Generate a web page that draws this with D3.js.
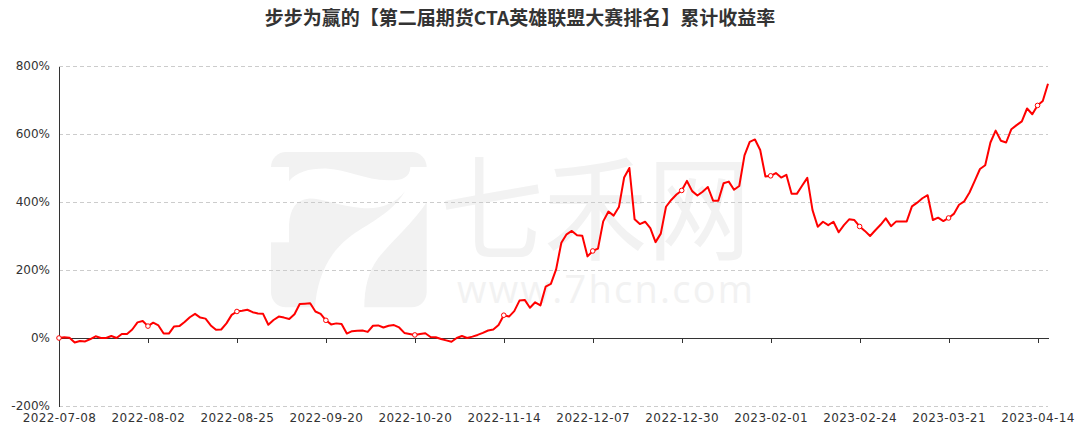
<!DOCTYPE html>
<html>
<head>
<meta charset="utf-8">
<script src="https://cdn.jsdelivr.net/npm/d3@7/dist/d3.min.js"></script>
<style>
html,body{margin:0;padding:0;background:#fff;}
svg{display:block;}
text{font-family:"DejaVu Sans",sans-serif;}
</style>
</head>
<body>
<svg id="chart" width="1079" height="435"></svg>
<script>
const titleText = "步步为赢的【第二届期货CTA英雄联盟大赛排名】累计收益率";

const dates = [
"2022-07-08","2022-07-11","2022-07-12","2022-07-13","2022-07-14","2022-07-15",
"2022-07-18","2022-07-19","2022-07-20","2022-07-21","2022-07-22",
"2022-07-25","2022-07-26","2022-07-27","2022-07-28","2022-07-29",
"2022-08-01","2022-08-02","2022-08-03","2022-08-04","2022-08-05",
"2022-08-08","2022-08-09","2022-08-10","2022-08-11","2022-08-12",
"2022-08-15","2022-08-16","2022-08-17","2022-08-18","2022-08-19",
"2022-08-22","2022-08-23","2022-08-24","2022-08-25","2022-08-26",
"2022-08-29","2022-08-30","2022-08-31","2022-09-01","2022-09-02",
"2022-09-05","2022-09-06","2022-09-07","2022-09-08","2022-09-09",
"2022-09-13","2022-09-14","2022-09-15","2022-09-16",
"2022-09-19","2022-09-20","2022-09-21","2022-09-22","2022-09-23",
"2022-09-26","2022-09-27","2022-09-28","2022-09-29","2022-09-30",
"2022-10-10","2022-10-11","2022-10-12","2022-10-13","2022-10-14",
"2022-10-17","2022-10-18","2022-10-19","2022-10-20","2022-10-21",
"2022-10-24","2022-10-25","2022-10-26","2022-10-27","2022-10-28",
"2022-10-31","2022-11-01","2022-11-02","2022-11-03","2022-11-04",
"2022-11-07","2022-11-08","2022-11-09","2022-11-10","2022-11-11",
"2022-11-14","2022-11-15","2022-11-16","2022-11-17","2022-11-18",
"2022-11-21","2022-11-22","2022-11-23","2022-11-24","2022-11-25",
"2022-11-28","2022-11-29","2022-11-30","2022-12-01","2022-12-02",
"2022-12-05","2022-12-06","2022-12-07","2022-12-08","2022-12-09",
"2022-12-12","2022-12-13","2022-12-14","2022-12-15","2022-12-16",
"2022-12-19","2022-12-20","2022-12-21","2022-12-22","2022-12-23",
"2022-12-26","2022-12-27","2022-12-28","2022-12-29","2022-12-30",
"2023-01-03","2023-01-04","2023-01-05","2023-01-06",
"2023-01-09","2023-01-10","2023-01-11","2023-01-12","2023-01-13",
"2023-01-16","2023-01-17","2023-01-18","2023-01-19","2023-01-20",
"2023-01-30","2023-01-31","2023-02-01","2023-02-02","2023-02-03",
"2023-02-06","2023-02-07","2023-02-08","2023-02-09","2023-02-10",
"2023-02-13","2023-02-14","2023-02-15","2023-02-16","2023-02-17",
"2023-02-20","2023-02-21","2023-02-22","2023-02-23","2023-02-24",
"2023-02-27","2023-02-28","2023-03-01","2023-03-02","2023-03-03",
"2023-03-06","2023-03-07","2023-03-08","2023-03-09","2023-03-10",
"2023-03-13","2023-03-14","2023-03-15","2023-03-16","2023-03-17",
"2023-03-20","2023-03-21","2023-03-22","2023-03-23","2023-03-24",
"2023-03-27","2023-03-28","2023-03-29","2023-03-30","2023-03-31",
"2023-04-03","2023-04-04","2023-04-06","2023-04-07",
"2023-04-10","2023-04-11","2023-04-12","2023-04-13","2023-04-14",
"2023-04-17","2023-04-18"
];

// cumulative return, %
const returns = [
0,2,1,-13,-9,-10,-3,5,0,0,
6,0,12,12,25,46,50,35,45,37,
13,13,34,35,47,61,71,60,57,37,
24,25,43,68,78,80,83,76,72,71,
39,53,63,60,56,70,100,101,102,78,
71,52,40,43,41,13,20,21,22,18,
36,37,31,36,38,31,15,12,9,12,
14,3,2,-3,-7,-11,0,6,0,4,
9,15,22,25,38,67,63,79,110,112,
89,105,96,151,159,202,280,305,315,302,
301,240,256,263,343,372,360,385,472,500,
349,335,342,323,282,307,386,406,422,434,
462,432,419,430,444,404,404,455,460,436,
447,537,577,584,553,475,477,485,472,480,
424,424,448,471,376,327,342,332,342,311,
332,349,347,328,315,300,317,333,352,329,
343,343,343,387,398,411,420,347,354,344,
353,365,392,402,428,462,497,508,575,610,
580,575,614,626,637,675,658,684,697,748
];

const yTicks = [-200, 0, 200, 400, 600, 800];
const labelEvery = 17;

const svg = d3.select("#chart");
const plotL = 59, plotR = 1048, plotT = 66, plotB = 406;

const x = d3.scalePoint().domain(dates).range([plotL, plotR]);
const y = d3.scaleLinear().domain([-200, 800]).range([plotB, plotT]);

// watermark
const wm = svg.append("g");
const logo = wm.append("g").attr("transform", "translate(265,148) scale(0.3333)");
logo.append("rect").attr("x", 18).attr("y", 12).attr("width", 467).attr("height", 466)
  .attr("rx", 45).attr("fill", "#f2f2f2");
logo.append("rect").attr("x", 16).attr("y", 57).attr("width", 56).attr("height", 226).attr("fill", "#fff");
logo.append("path").attr("fill", "#fff").attr("d",
  "M72,100 C95,70 140,60 190,62 C240,64 300,95 370,97 C410,98 435,90 436,57 L487,57 L487,160 " +
  "C440,230 380,280 340,330 C310,370 298,420 298,480 L150,480 C155,400 185,320 250,270 " +
  "C300,230 380,200 420,130 C390,170 340,185 290,180 C220,175 170,150 130,152 C95,155 75,180 72,230 Z");
wm.append("text").attr("x", 440).attr("y", 251)
  .style("font-family", "'Noto Sans CJK SC',sans-serif").style("font-size", "114px")
  .attr("fill", "#f2f2f2").attr("textLength", 311).attr("lengthAdjust", "spacingAndGlyphs")
  .text("七禾网");
wm.append("text").attr("x", 457).attr("y", 303)
  .style("font-family", "'Open Sans','DejaVu Sans',sans-serif").style("font-size", "38px")
  .attr("fill", "#f2f2f2").attr("textLength", 296).attr("lengthAdjust", "spacing")
  .text("www.7hcn.com");

// gridlines
svg.append("g").selectAll("line").data(yTicks.filter(d => d !== 0)).join("line")
  .attr("x1", plotL).attr("x2", plotR)
  .attr("y1", d => y(d)).attr("y2", d => y(d))
  .attr("stroke", "#ccc").attr("stroke-width", 1).attr("stroke-dasharray", "4,3")
  .attr("shape-rendering", "crispEdges");

// y axis
const yAxis = svg.append("g").attr("transform", `translate(${plotL},0)`)
  .call(d3.axisLeft(y).tickValues(yTicks).tickSize(0).tickPadding(9).tickFormat(d => d + "%"));
yAxis.select(".domain").attr("stroke", "#333").attr("shape-rendering", "crispEdges");
yAxis.selectAll("text").attr("fill", "#333").style("font-size", "12px");

// x axis line at zero with ticks
const tickDates = dates.filter((d, i) => i % labelEvery === 0);
const xAxis = svg.append("g").attr("transform", `translate(0,${y(0)})`)
  .call(d3.axisBottom(x).tickValues(tickDates).tickSize(5).tickSizeOuter(0).tickFormat(""));
xAxis.select(".domain").attr("stroke", "#333").attr("shape-rendering", "crispEdges");
xAxis.selectAll(".tick line").attr("stroke", "#333").attr("shape-rendering", "crispEdges");

// x labels at bottom
const xLab = svg.append("g").attr("transform", `translate(0,${plotB})`)
  .call(d3.axisBottom(x).tickValues(tickDates).tickSize(0).tickPadding(7));
xLab.select(".domain").remove();
xLab.selectAll("text").attr("fill", "#333").style("font-size", "12px").style("letter-spacing", "0.4px");

// line
const line = d3.line().x((d, i) => x(dates[i])).y(d => y(d));
svg.append("path").datum(returns).attr("d", line)
  .attr("fill", "none").attr("stroke", "#ff0000").attr("stroke-width", 2)
  .attr("stroke-linejoin", "round");

// markers
svg.append("g").selectAll("circle")
  .data(returns.map((v, i) => ({v, i})).filter(d => d.i % labelEvery === 0))
  .join("circle")
  .attr("cx", d => x(dates[d.i])).attr("cy", d => y(d.v)).attr("r", 2.3)
  .attr("fill", "#fff").attr("stroke", "#ff0000").attr("stroke-width", 1);

// title
svg.append("text").attr("x", 520).attr("y", 25).attr("text-anchor", "middle")
  .style("font-family", "'Noto Sans CJK SC',sans-serif").style("font-size", "19px")
  .style("font-weight", "bold").attr("fill", "#333").text(titleText);
</script>
</body>
</html>
